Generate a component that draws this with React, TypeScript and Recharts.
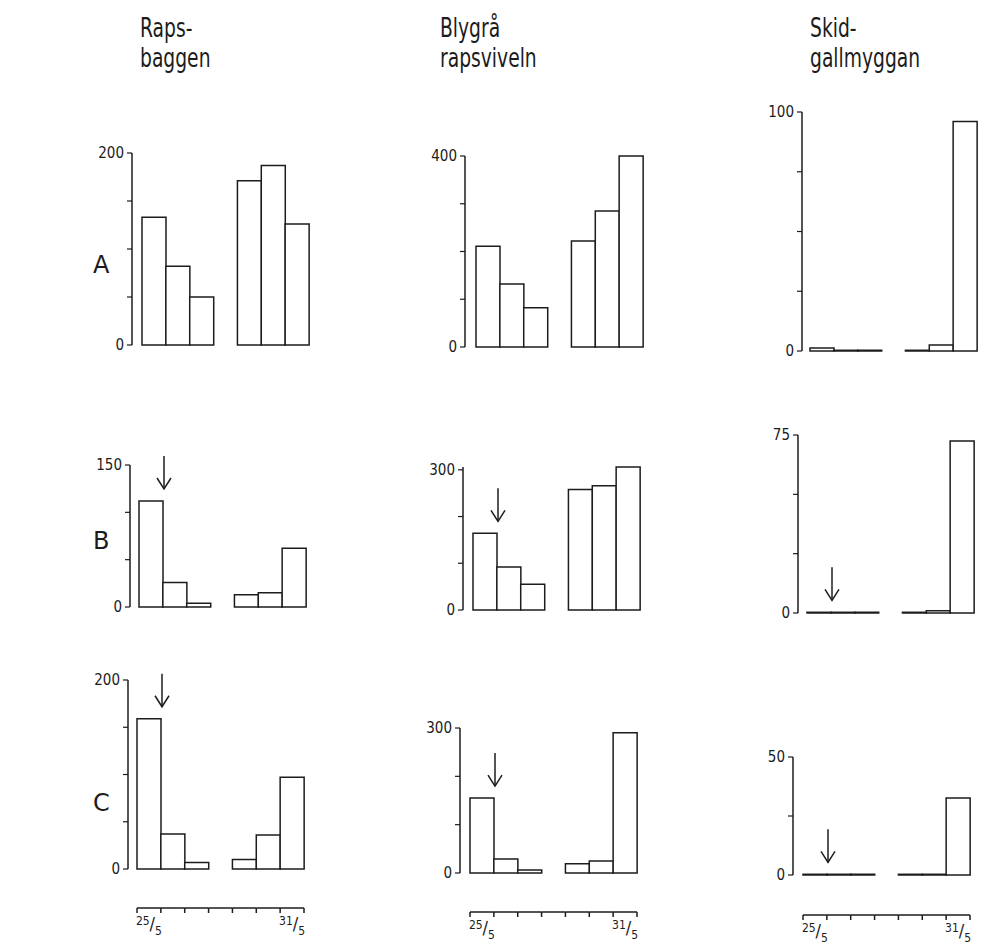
import React from 'react';
import { BarChart, Bar, XAxis, YAxis, LabelList } from 'recharts';

// one bar per day, 28/5 has no catch
const days = ['25/5', '26/5', '27/5', '28/5', '29/5', '30/5', '31/5'];

// Rapsbaggen, fields A-C
const rapsA = [133, 82, 50, null, 171, 187, 126];
const rapsB = [112, 26, 4, null, 13, 15, 62];
const rapsC = [159, 37, 7, null, 10, 36, 97];

// Blygrå rapsviveln
const blygraA = [211, 132, 82, null, 222, 285, 400];
const blygraB = [164, 92, 55, null, 258, 266, 306];
const blygraC = [155, 29, 6, null, 19, 25, 290];

// Skidgallmyggan
const skidA = [1.3, 0.3, 0.3, null, 0.3, 2.5, 96];
const skidB = [0.3, 0.3, 0.3, null, 0.3, 1, 72.5];
const skidC = [0.3, 0.3, 0.3, null, 0.3, 0.3, 32.6];

const headers = [['Raps-', 'baggen'], ['Blygrå', 'rapsviveln'], ['Skid-', 'gallmyggan']];
const rowLabels = ['A', 'B', 'C'];
const yMax = [[200, 150, 200], [400, 300, 300], [100, 75, 50]];
const yStep = [50, 100, 25];
const seriesGrid = [[rapsA, rapsB, rapsC], [blygraA, blygraB, blygraC], [skidA, skidB, skidC]];
// treatment marked by arrow in field B and C
const arrowDay = [null, '25/5', '25/5'];
const dateLabels = ['25/5', '', '', '', '', '', '31/5'];

// ---- layout (pixels) ----
const FONT = '"DejaVu Sans Condensed", "Liberation Sans Narrow", "DejaVu Sans", sans-serif';
const INK = '#1c1c1c';
const PLOT_W = 167;
const YW = 50;
const MT = 12;
const MB = 10;
const geom = [
  [{ x: 132, pad: 10, top: 153, bottom: 345 }, { x: 130, pad: 9, top: 465, bottom: 607 }, { x: 128, pad: 9, top: 680, bottom: 869 }],
  [{ x: 465, pad: 11, top: 156, bottom: 347 }, { x: 463, pad: 10, top: 467, bottom: 610 }, { x: 460, pad: 10, top: 728, bottom: 873 }],
  [{ x: 802, pad: 8, top: 112, bottom: 351 }, { x: 798, pad: 9, top: 435, bottom: 613 }, { x: 793, pad: 10, top: 757, bottom: 875 }],
];
const dateGap = [39, 39, 40];
const headerPos = [{ x: 140, y: 13 }, { x: 440, y: 13 }, { x: 810, y: 13 }];
const rowLabelY = [265, 541, 803];

const ArrowMark = (props: any) => {
  const vb = props.viewBox ?? props;
  const { x, y, width } = vb;
  if (props.index !== 0) return null;
  const ax = x + width + 1;
  const tip = y - 12;
  const tail = tip - 33;
  return (
    <g stroke={INK} strokeWidth={1.5} fill="none">
      <line x1={ax} y1={tail} x2={ax} y2={tip} />
      <polyline points={`${ax - 7},${tip - 11} ${ax},${tip} ${ax + 7},${tip - 11}`} />
    </g>
  );
};

// date axis drawn slot by slot: line, boundary ticks, fraction label
const makeDateTick = (slotW: number) => (props: any) => {
  const { x, y, index } = props;
  const x0 = x - slotW / 2;
  const x1 = x + slotW / 2;
  const lab = dateLabels[index];
  const last = index === days.length - 1;
  const [num, den] = lab ? lab.split('/') : ['', ''];
  return (
    <g>
      <g stroke={INK} strokeWidth={1.5}>
        <line x1={x0} y1={y} x2={x1} y2={y} />
        <line x1={x0} y1={y} x2={x0} y2={y + 5} />
        {last && <line x1={x1} y1={y} x2={x1} y2={y + 5} />}
      </g>
      {lab && (
        <text x={x} y={y + 17} textAnchor="middle" fill={INK} fontFamily={FONT} fontSize={12}>
          <tspan>{num}</tspan>
          <tspan fontSize={18} dy={5}>/</tspan>
          <tspan dy={5}>{den}</tspan>
        </text>
      )}
    </g>
  );
};

function Panel({ col, row }: { col: number; row: number }) {
  const g = geom[col][row];
  const values = seriesGrid[col][row];
  const max = yMax[col][row];
  const step = yStep[col];
  const data = days.map((d, i) => ({ day: d, v: values[i] }));
  const ticks: number[] = [];
  for (let t = 0; t <= max; t += step) ticks.push(t);
  const withDates = row === 2;
  const plotH = g.bottom - g.top;
  const width = YW + g.pad + PLOT_W + 4;
  const height = MT + plotH + (withDates ? dateGap[col] + 36 : MB);
  const slotW = PLOT_W / days.length;

  return (
    <div style={{ position: 'absolute', left: g.x - YW, top: g.top - MT }}>
      <BarChart
        width={width}
        height={height}
        data={data}
        margin={{ top: MT, right: 4, left: 0, bottom: withDates ? 0 : MB }}
        barCategoryGap={0}
      >
        <XAxis
          xAxisId="bars"
          dataKey="day"
          hide={!withDates}
          padding={{ left: g.pad, right: 0 }}
          axisLine={false}
          tickLine={false}
          tick={false}
          height={dateGap[col]}
        />
        {withDates && (
          <XAxis
            xAxisId="date"
            dataKey="day"
            padding={{ left: g.pad, right: 0 }}
            axisLine={false}
            tickLine={false}
            tickSize={0}
            tickMargin={0}
            interval={0}
            tick={makeDateTick(slotW)}
            height={36}
          />
        )}
        <YAxis
          width={YW}
          domain={[0, max]}
          ticks={ticks}
          interval={0}
          tickSize={5}
          tickMargin={3}
          axisLine={{ stroke: INK, strokeWidth: 1.5 }}
          tickLine={{ stroke: INK, strokeWidth: 1.2 }}
          tick={{ fill: INK, fontSize: 15, fontFamily: FONT }}
          tickFormatter={(v: number) => (v === 0 || v === max ? String(v) : '')}
        />
        <Bar xAxisId="bars" dataKey="v" fill="#fff" stroke={INK} strokeWidth={1.5} isAnimationActive={false}>
          {arrowDay[row] && <LabelList dataKey="v" content={ArrowMark} />}
        </Bar>
      </BarChart>
    </div>
  );
}

export default function App() {
  return (
    <div style={{ position: 'absolute', left: 0, top: 0, width: 997, height: 944, background: '#fff', fontFamily: FONT, color: INK }}>
      {headers.map((lines, c) => (
        <div
          key={c}
          style={{
            position: 'absolute',
            left: headerPos[c].x,
            top: headerPos[c].y,
            fontSize: 26,
            lineHeight: '30px',
            transform: 'scaleX(0.8)',
            transformOrigin: 'left top',
            whiteSpace: 'nowrap',
          }}
        >
          {lines.map((l) => (
            <div key={l}>{l}</div>
          ))}
        </div>
      ))}
      {rowLabels.map((r, i) => (
        <div key={r} style={{ position: 'absolute', left: 93, top: rowLabelY[i] - 14, fontSize: 24, fontFamily: '"DejaVu Sans", sans-serif' }}>
          {r}
        </div>
      ))}
      {[0, 1, 2].map((c) => [0, 1, 2].map((r) => <Panel key={`${c}-${r}`} col={c} row={r} />))}
    </div>
  );
}
